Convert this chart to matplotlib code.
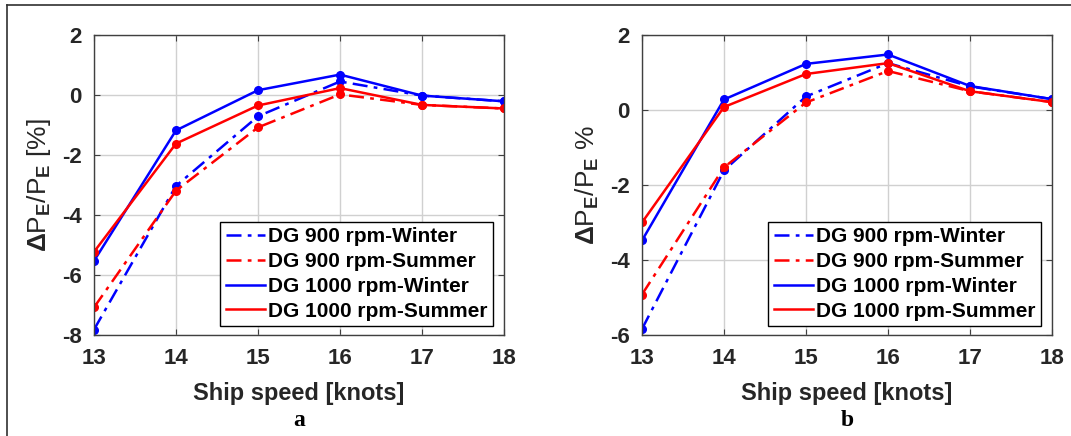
import numpy as np
import matplotlib.pyplot as plt
from matplotlib.lines import Line2D

plt.rcParams['font.family'] = ['Liberation Sans', 'DejaVu Sans']
plt.rcParams['mathtext.fontset'] = 'custom'
plt.rcParams['mathtext.rm'] = 'Liberation Sans:bold'
plt.rcParams['mathtext.default'] = 'rm'
plt.rcParams['axes.unicode_minus'] = False

speed = [13, 14, 15, 16, 17, 18]
labels = ['DG 900 rpm-Winter', 'DG 900 rpm-Summer',
          'DG 1000 rpm-Winter', 'DG 1000 rpm-Summer']

# panel a
a_900_winter = [-7.82, -3.03, -0.71, 0.45, -0.02, -0.21]
a_900_summer = [-7.08, -3.19, -1.08, 0.02, -0.33, -0.45]
a_1000_winter = [-5.53, -1.18, 0.16, 0.68, -0.02, -0.21]
a_1000_summer = [-5.23, -1.62, -0.35, 0.23, -0.33, -0.45]

# panel b
b_900_winter = [-5.84, -1.61, 0.36, 1.25, 0.63, 0.29]
b_900_summer = [-4.92, -1.53, 0.20, 1.04, 0.50, 0.21]
b_1000_winter = [-3.48, 0.28, 1.23, 1.48, 0.64, 0.29]
b_1000_summer = [-3.00, 0.08, 0.96, 1.25, 0.50, 0.21]

styles = [('b', (0, (6, 2.5, 1.5, 2.5))), ('r', (0, (6, 2.5, 1.5, 2.5))),
          ('b', '-'), ('r', '-')]
txt = '#262626'

fig = plt.figure(figsize=(10.71, 4.36), dpi=100)
ax_a = fig.add_axes([94 / 1071, 101 / 436, 410 / 1071, 300 / 436])
ax_b = fig.add_axes([642 / 1071, 101 / 436, 410 / 1071, 300 / 436])

panels = [
    (ax_a, [a_900_winter, a_900_summer, a_1000_winter, a_1000_summer],
     (-8, 2), r'$\Delta$P$_E$/P$_E$ [%]', 'a'),
    (ax_b, [b_900_winter, b_900_summer, b_1000_winter, b_1000_summer],
     (-6, 2), r'$\Delta$P$_E$/P$_E$ %', 'b'),
]

for ax, series, ylim, ylab, tag in panels:
    handles = []
    for vals, (c, ls), lab in zip(series, styles, labels):
        ax.plot(speed, vals, color=c, linestyle=ls, linewidth=1.8,
                marker='o', markersize=5.5)
        handles.append(Line2D([], [], color=c, linestyle=ls, linewidth=1.8,
                              label=lab))
    ax.set_xlim(13, 18)
    ax.set_ylim(*ylim)
    ax.set_xticks(speed)
    ax.set_yticks(np.arange(ylim[0], ylim[1] + 1, 2))
    ax.grid(True, color='#d0d0d0', linewidth=1.0)
    ax.set_axisbelow(True)
    for s in ax.spines.values():
        s.set_color('#404040')
        s.set_linewidth(1.0)
    ax.tick_params(direction='in', top=True, right=True, length=4,
                   colors='#404040', labelcolor=txt, labelsize=16, pad=9)
    for t in ax.get_xticklabels() + ax.get_yticklabels():
        t.set_fontweight('bold')
    ax.set_xlabel('Ship speed [knots]', fontsize=17, fontweight='bold',
                  color=txt, labelpad=10)
    ax.set_ylabel(ylab, fontsize=19, color=txt, labelpad=6)
    leg = ax.legend(handles=handles, loc='lower right',
                    bbox_to_anchor=(0.973, 0.03),
                    fancybox=False, edgecolor='k', framealpha=1,
                    prop={'weight': 'bold', 'size': 15},
                    handlelength=1.9, handletextpad=0.15, labelspacing=0.28,
                    borderpad=0.25, borderaxespad=0)
    leg.get_frame().set_linewidth(1.0)
    ax.text(0.5, -0.285, tag, transform=ax.transAxes, ha='center',
            va='center', fontsize=17, fontweight='bold',
            family='Liberation Serif')

fig.add_artist(Line2D([7 / 1071, 1], [1 - 5 / 436, 1 - 5 / 436],
                      transform=fig.transFigure, color='#303030',
                      linewidth=1.2))
fig.add_artist(Line2D([7 / 1071, 7 / 1071], [0, 1 - 5 / 436],
                      transform=fig.transFigure, color='#303030',
                      linewidth=1.2))

fig.savefig('out.png', dpi=100)
